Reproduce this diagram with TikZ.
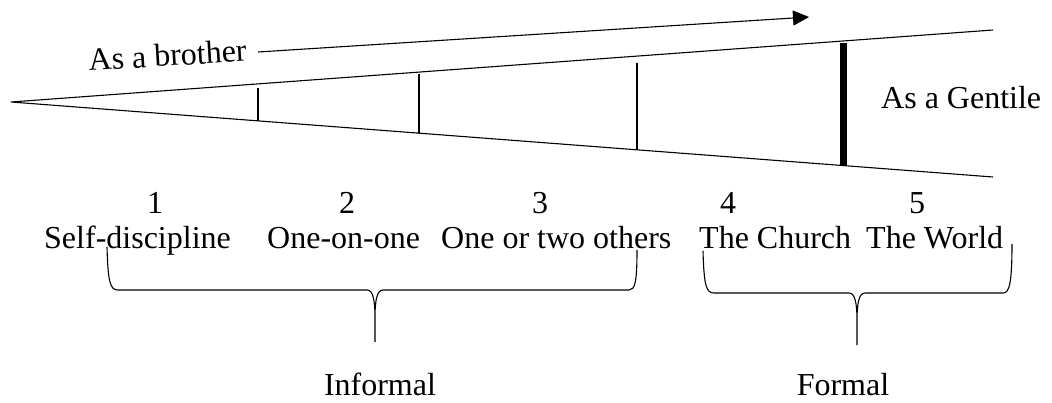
\documentclass[tikz,border=0pt]{standalone}
\usepackage{fontspec}
\setmainfont{Liberation Serif}
\usetikzlibrary{arrows.meta,calc}
\tikzset{
  thin line/.style={line width=1.1pt, line cap=butt},
  label text/.style={inner sep=0pt, font=\fontsize{32}{38}\selectfont},
  brace line/.style={line width=1.1pt, line join=round},
}
\begin{document}
\begin{tikzpicture}[x=1pt, y=-1pt]
  \useasboundingbox (0,0) rectangle (1052,402);
  % wedge
  \coordinate (apex) at (11,102);
  \coordinate (upend) at (993,30);
  \coordinate (lowend) at (993,177);
  \draw[thin line] (upend) -- (apex) -- (lowend);
  % stage dividers, each standing on the lower edge
  \coordinate (d1) at ($(apex)!0.2515!(lowend)$);
  \coordinate (d2) at ($(apex)!0.4155!(lowend)$);
  \coordinate (d3) at ($(apex)!0.6375!(lowend)$);
  \coordinate (d4) at ($(apex)!0.8478!(lowend)$);
  \draw[thin line] (d1) -- (d1 |- 0,88);
  \draw[thin line] (d2) -- (d2 |- 0,74);
  \draw[thin line] (d3) -- (d3 |- 0,63);
  \draw[line width=7pt] (d4) -- (d4 |- 0,43);
  % progression arrow
  \coordinate (arrstart) at (258,52);
  \coordinate (arrend) at (809,17);
  \draw[thin line, -{Triangle[length=16pt,width=15pt]}] (arrstart) -- (arrend);
  \node[label text, anchor=base west, rotate=3.5] (brother) at (89,71) {As a brother};
  \node[label text, anchor=base west] (gentile) at (881,108) {As a Gentile};
  % stage numbers
  \node[label text, anchor=base] (n1) at (155,213) {1};
  \node[label text, anchor=base] (n2) at (347,213) {2};
  \node[label text, anchor=base] (n3) at (540,213) {3};
  \node[label text, anchor=base] (n4) at (728,213) {4};
  \node[label text, anchor=base] (n5) at (917,213) {5};
  % stage names
  \node[label text, anchor=base west] (s1) at (44,248) {Self-discipline};
  \node[label text, anchor=base west] (s2) at (267,248) {One-on-one};
  \node[label text, anchor=base west] (s3) at (441,248) {One or two others};
  \node[label text, anchor=base west] (s4) at (699,248) {The Church};
  \node[label text, anchor=base west] (s5) at (866,248) {The World};
  % grouping braces
  \draw[brace line] (107,247) .. controls (108,282) and (110,290) .. (118,290)
    -- (367,290) .. controls (373,290) and (375,300) .. (375,318) -- (375,342)
    (375,318) .. controls (375,300) and (377,290) .. (383,290)
    -- (629,290) .. controls (635,290) and (637,282) .. (637,250);
  \draw[brace line] (703,251) .. controls (704,285) and (706,293) .. (714,293)
    -- (849,293) .. controls (855,293) and (857,303) .. (857,321) -- (857,345)
    (857,321) .. controls (857,303) and (859,293) .. (865,293)
    -- (1003,293) .. controls (1009,293) and (1012,285) .. (1012,244);
  \node[label text, anchor=base] (informal) at (380,395) {Informal};
  \node[label text, anchor=base] (formal) at (843,395) {Formal};
\end{tikzpicture}
\end{document}
